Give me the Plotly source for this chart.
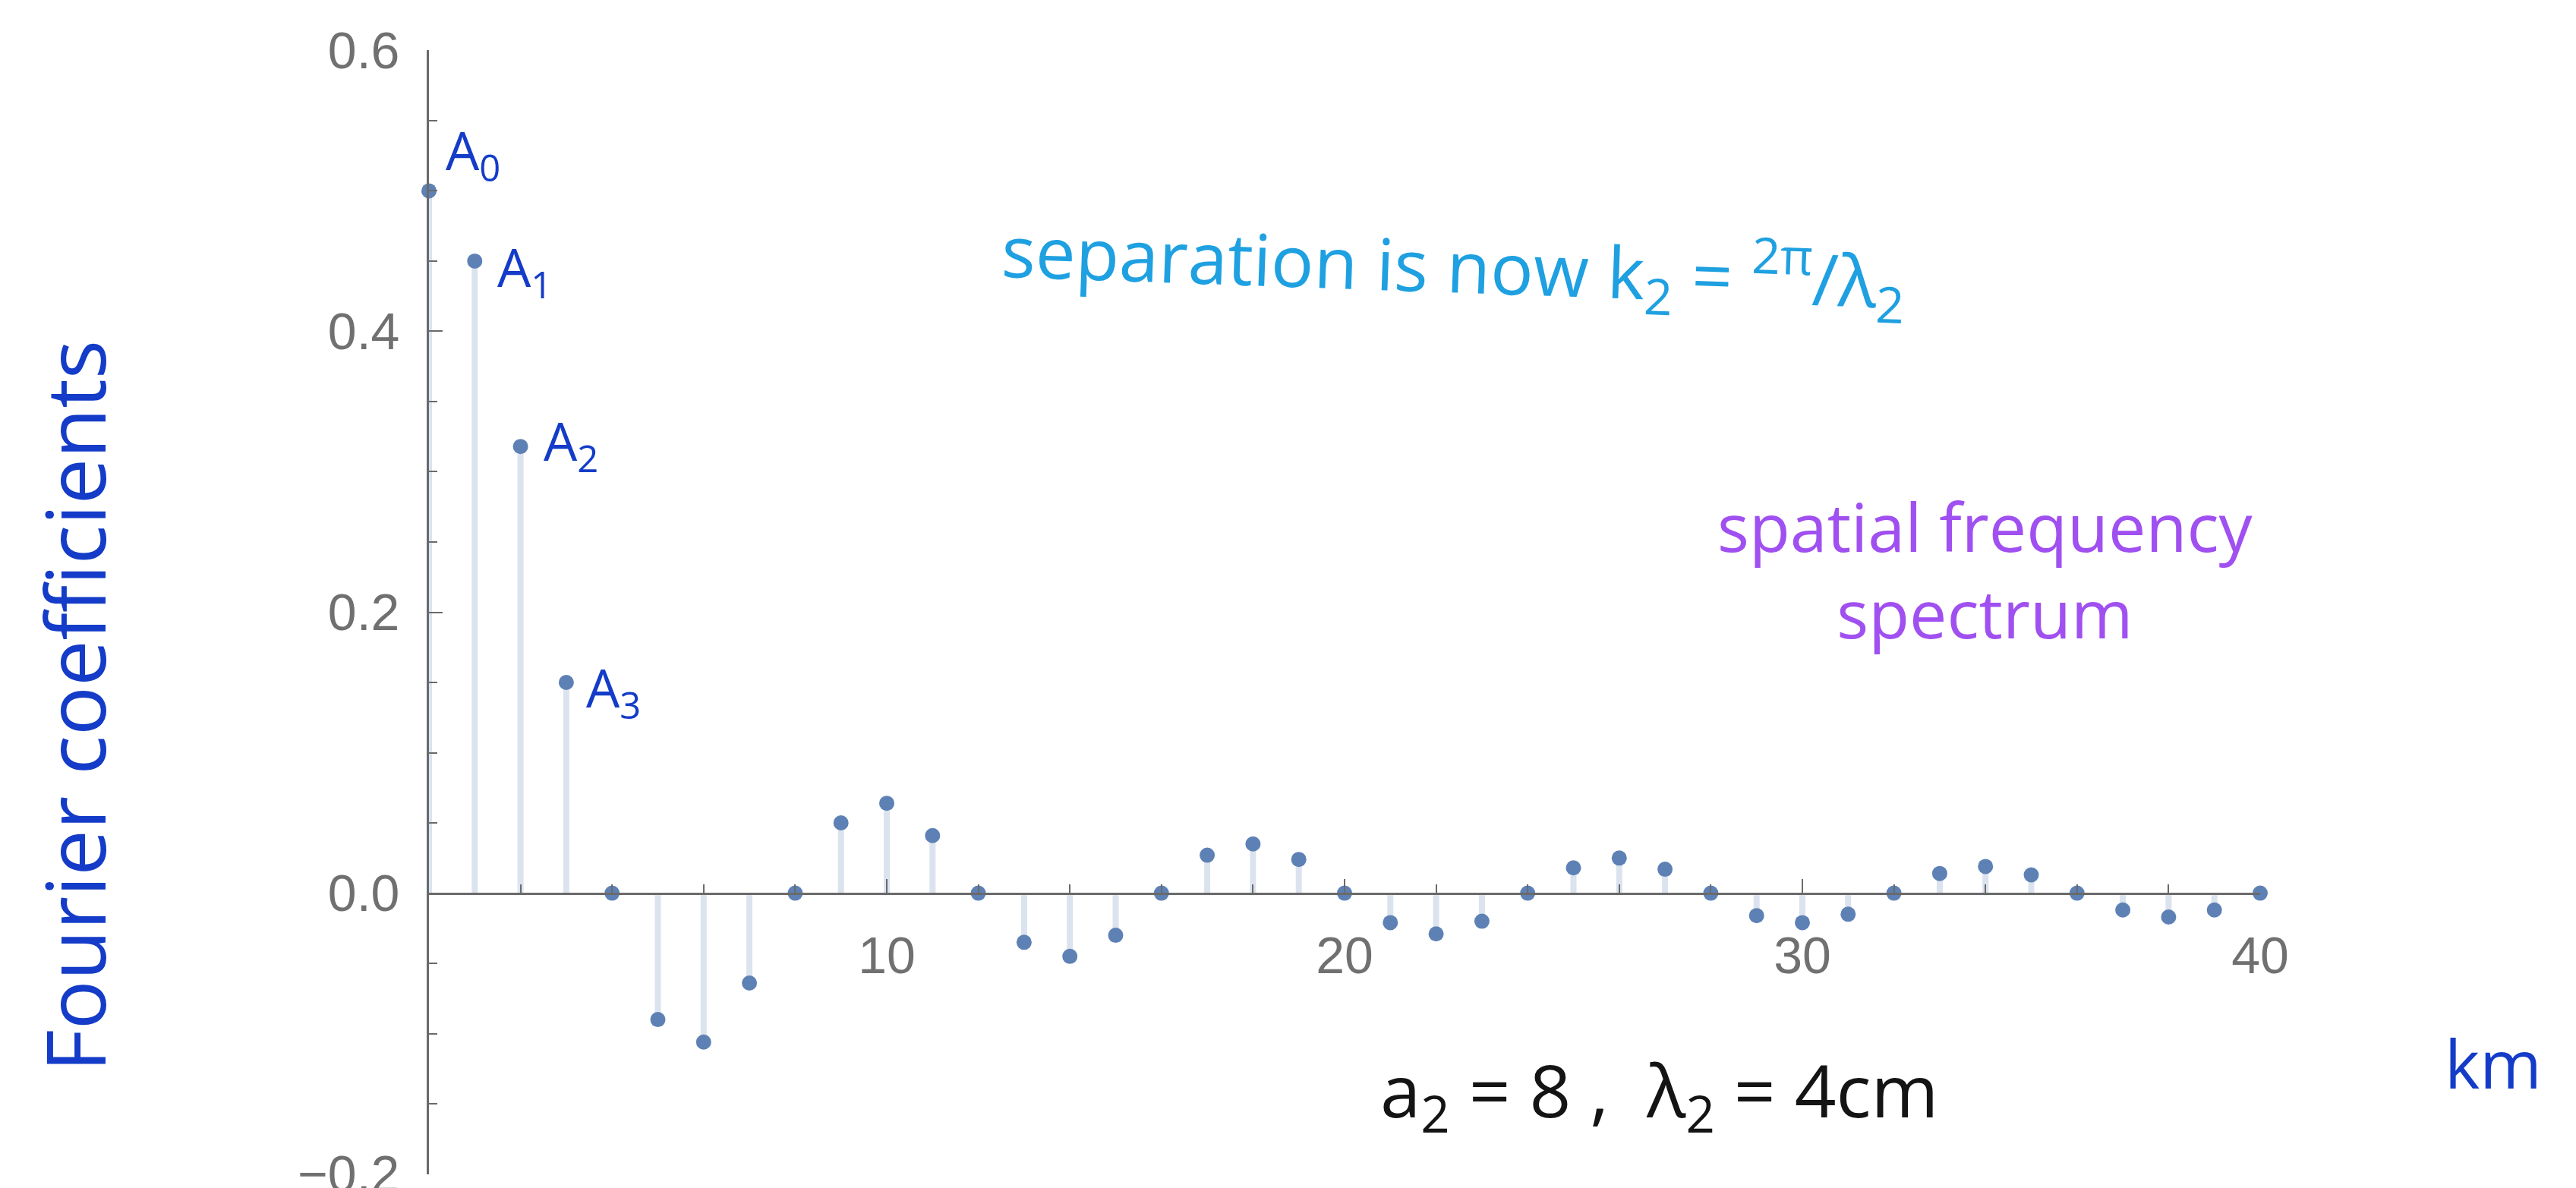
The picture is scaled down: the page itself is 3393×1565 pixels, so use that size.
import plotly.graph_objects as go

# Fourier coefficients A_n of the pulse train, n = 0 .. 40
n_values = list(range(0, 41))
coefficients = [
    0.500, 0.450, 0.318, 0.150, 0.000, -0.090, -0.106, -0.064, 0.000,
    0.050, 0.064, 0.041, 0.000, -0.035, -0.045, -0.030, 0.000,
    0.027, 0.035, 0.024, 0.000, -0.021, -0.029, -0.020, 0.000,
    0.018, 0.025, 0.017, 0.000, -0.016, -0.021, -0.015, 0.000,
    0.014, 0.019, 0.013, 0.000, -0.012, -0.017, -0.012, 0.000,
]
x_tick_values = [10, 20, 30, 40]
y_tick_values = [-0.2, 0.0, 0.2, 0.4, 0.6]
labelled_terms = ["A<sub>0</sub>", "A<sub>1</sub>", "A<sub>2</sub>", "A<sub>3</sub>"]

W, H = 3393, 1565
M_L, M_R, M_T, M_B = 565, 416, 66, 18
PLOT_W = W - M_L - M_R
PLOT_H = H - M_T - M_B

POINT_COLOR = "rgb(94,129,181)"
STEM_COLOR = "rgb(219,227,239)"
AXIS_COLOR = "#6a6a6a"
TICK_FONT = dict(family="Liberation Sans, Arial, sans-serif", size=68, color="#707070")
HAND_FONT = "Open Sans, Lato, sans-serif"


def paper_x(px):
    return (px - M_L) / PLOT_W


def paper_y(py):
    return (H - M_B - py) / PLOT_H


# vertical stems from the axis to each coefficient
stem_x, stem_y = [], []
for n, a in zip(n_values, coefficients):
    stem_x += [n, n, None]
    stem_y += [0, a, None]

fig = go.Figure()
fig.add_trace(go.Scatter(
    x=stem_x, y=stem_y, mode="lines",
    line=dict(color=STEM_COLOR, width=8),
    hoverinfo="skip", showlegend=False, cliponaxis=False,
))
fig.add_trace(go.Scatter(
    x=n_values, y=coefficients, mode="markers",
    marker=dict(color=POINT_COLOR, size=20),
    showlegend=False, cliponaxis=False,
))

# handwritten-style labels next to the first four coefficients
label_shifts = [(20, 50), (28, -11), (28, 4), (24, -10)]
for i, (text, (dx, dy)) in enumerate(zip(labelled_terms, label_shifts)):
    fig.add_annotation(
        x=n_values[i], y=coefficients[i], xref="x", yref="y",
        text=text, showarrow=False, xanchor="left", yanchor="middle",
        xshift=dx, yshift=dy,
        font=dict(family=HAND_FONT, size=70, color="rgb(20,60,200)"),
    )

notes = [
    dict(text="Fourier coefficients", px=97, py=930, size=108,
         color="rgb(20,60,200)", angle=-90),
    dict(text="separation is now k<sub>2</sub> = <sup>2π</sup>/λ<sub>2</sub>",
         px=1915, py=350, size=94, color="rgb(30,160,225)", angle=2),
    dict(text="spatial frequency<br>spectrum", px=2615, py=750, size=88,
         color="rgb(160,80,240)", angle=0),
    dict(text="a<sub>2</sub> = 8 ,  λ<sub>2</sub> = 4cm", px=2185, py=1440,
         size=96, color="rgb(20,20,20)", angle=0),
    dict(text="km", px=3284, py=1400, size=88, color="rgb(20,60,200)", angle=0),
]
for note in notes:
    fig.add_annotation(
        x=paper_x(note["px"]), y=paper_y(note["py"]), xref="paper", yref="paper",
        text=note["text"], showarrow=False, xanchor="center", yanchor="middle",
        textangle=note["angle"],
        font=dict(family=HAND_FONT, size=note["size"], color=note["color"]),
    )

fig.update_layout(
    width=W, height=H,
    margin=dict(l=M_L, r=M_R, t=M_T, b=M_B, autoexpand=False),
    paper_bgcolor="white", plot_bgcolor="white",
    showlegend=False,
    xaxis=dict(
        range=[0, 40], anchor="free", position=0.25, side="bottom",
        showgrid=False, zeroline=False, automargin=False,
        showline=True, linecolor=AXIS_COLOR, linewidth=3,
        tickmode="array", tickvals=x_tick_values,
        ticks="inside", ticklen=18, tickwidth=2, tickcolor=AXIS_COLOR,
        ticklabelstandoff=22, tickfont=TICK_FONT, ticklabeloverflow="allow",
        minor=dict(ticks="inside", tick0=0, dtick=2, ticklen=11,
                   tickwidth=2, tickcolor=AXIS_COLOR, showgrid=False),
    ),
    yaxis=dict(
        range=[-0.2002, 0.6002], showgrid=False, zeroline=False, automargin=False,
        showline=True, linecolor=AXIS_COLOR, linewidth=3,
        tickmode="array", tickvals=y_tick_values,
        ticktext=[f"{v:.1f}".replace("-", "\u2212") for v in y_tick_values],
        ticks="inside", ticklen=18, tickwidth=2, tickcolor=AXIS_COLOR,
        ticklabelstandoff=22, tickfont=TICK_FONT, ticklabeloverflow="allow",
        minor=dict(ticks="inside", tick0=0, dtick=0.05, ticklen=11,
                   tickwidth=2, tickcolor=AXIS_COLOR, showgrid=False),
    ),
)

fig.write_html("out.html", config={"displayModeBar": False})
